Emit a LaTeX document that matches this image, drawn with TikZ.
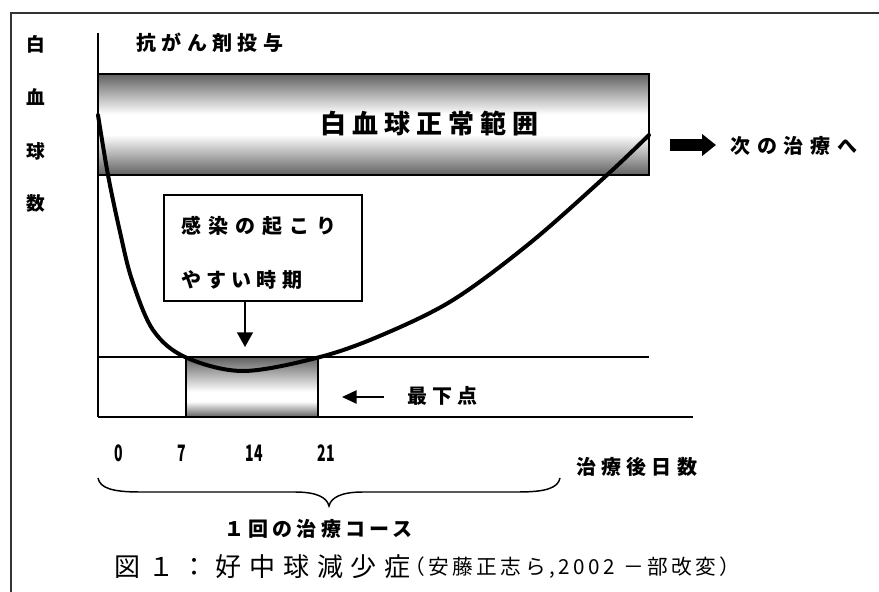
\documentclass[tikz,border=0pt]{standalone}
\usepackage{fontspec}
\usepackage{graphicx}
\setmainfont{Noto Sans CJK JP}
\newfontfamily\jp{Noto Sans CJK JP}
\usetikzlibrary{arrows.meta}
\pgfdeclareverticalshading{barshade}{100bp}{color(0bp)=(black!62); color(25bp)=(black!62); color(45bp)=(white); color(55bp)=(white); color(75bp)=(black!62); color(100bp)=(black!62)}
\pgfdeclareverticalshading{lowshade}{100bp}{color(0bp)=(black!62); color(25bp)=(black!62); color(38bp)=(white); color(46bp)=(white); color(75bp)=(black!62); color(100bp)=(black!62)}
\begin{document}
\begin{tikzpicture}[x=0.75pt,y=-0.75pt,
  sm/.style={inner sep=0pt, anchor=west, font={\jp\bfseries\fontsize{15}{15}\selectfont\addfontfeatures{LetterSpace=#1}}},
  sm/.default=25,
  ylab/.style={inner sep=0pt, font={\jp\bfseries\fontsize{14}{14}\selectfont}},
  num/.style={inner sep=0pt, font={\jp\bfseries\fontsize{17}{17}\selectfont}},
  thinline/.style={line width=1.1pt, draw=black},
  curve/.style={line width=3pt, line cap=round, line join=round}]
\useasboundingbox (0,0) rectangle (879,592);
% outer frame
\draw[line width=1.2pt, draw=black!80] (11,592) -- (11,13) -- (879,13);
% y axis
\draw[thinline] (98,33) -- (98,417);
% normal range bar
\shade[shading=barshade] (98,74) rectangle (649,175);
\draw[thinline] (98,74) rectangle (649,175);
% lower zone
\shade[shading=lowshade] (186,357) rectangle (318,417);
\draw[thinline] (186,357) -- (186,417) (318,357) -- (318,417);
\draw[thinline] (98,357) -- (649,357);
\draw[thinline] (98,417) -- (693,417);
% y-axis label
\node[ylab] (y1) at (36,44) {白};
\node[ylab] (y2) at (36,97) {血};
\node[ylab] (y3) at (36,151) {球};
\node[ylab] (y4) at (36,203) {数};
\node[sm=27] (drug) at (136,43) {抗がん剤投与};
\node[inner sep=0pt, anchor=west, font={\jp\bfseries\fontsize{19.5}{19.5}\selectfont\addfontfeatures{LetterSpace=23}}] (normal) at (320,124) {白血球正常範囲};
% box
\draw[thinline] (164,195) rectangle (362,301);
\coordinate (boxs) at (245,301);
\node[sm=35] (inf1) at (181,226) {感染の起こり};
\node[sm=26] (inf2) at (181,280) {やすい時期};
\coordinate (boxa) at (245,347);
\draw[line width=1.1pt, -{Triangle[length=11pt,width=12pt]}] (boxs) -- (boxa);
% curve
\draw[curve] plot[smooth, tension=0.55] coordinates {(98,115) (108,175) (120,232) (132,280) (153,330) (185,357) (243,371) (320,357) (382,335) (453,300) (530,243) (607,175) (649,135)};
% next treatment arrow
\coordinate (f1) at (670,145);
\coordinate (f2) at (716,145);
\draw[line width=9pt, -{Triangle[length=10.5pt,width=16pt]}] (f1) -- (f2);
\node[sm=34] (next) at (730,146) {次の治療へ};
% nadir arrow
\coordinate (n1) at (384,397);
\coordinate (n2) at (342,397);
\draw[line width=1.1pt, -{Triangle[length=11pt,width=10pt]}] (n1) -- (n2);
\node[sm=25] (nadir) at (407,396) {最下点};
% numbers
\node[num] (d0) at (119,453) {\scalebox{0.62}[1]{0}};
\node[num] (d7) at (182,453) {\scalebox{0.62}[1]{7}};
\node[num] (d14) at (254,453) {\scalebox{0.62}[1]{14}};
\node[num] (d21) at (326,453) {\scalebox{0.62}[1]{21}};
\node[sm=26] (days) at (576,467) {治療後日数};
% brace
\draw[line width=1.1pt] (98,478) .. controls (100,488) and (112,492) .. (140,492) -- (295,492) .. controls (318,492) and (327,498) .. (329,506) .. controls (331,498) and (340,492) .. (363,492) -- (518,492) .. controls (546,492) and (558,488) .. (560,478);
\node[sm=21] (course) at (224,529) {１回の治療コース};
% caption
\node[inner sep=0pt, anchor=west, font={\jp\fontsize{19.5}{19.5}\selectfont\addfontfeatures{LetterSpace=30}}] (cap) at (114,567) {図１：好中球減少症};
\node[inner sep=0pt, anchor=west, font={\jp\fontsize{15.5}{15.5}\selectfont\addfontfeatures{LetterSpace=17}}] (src) at (404,568) {（安藤正志ら,2002 －部改変）};
\end{tikzpicture}
\end{document}
